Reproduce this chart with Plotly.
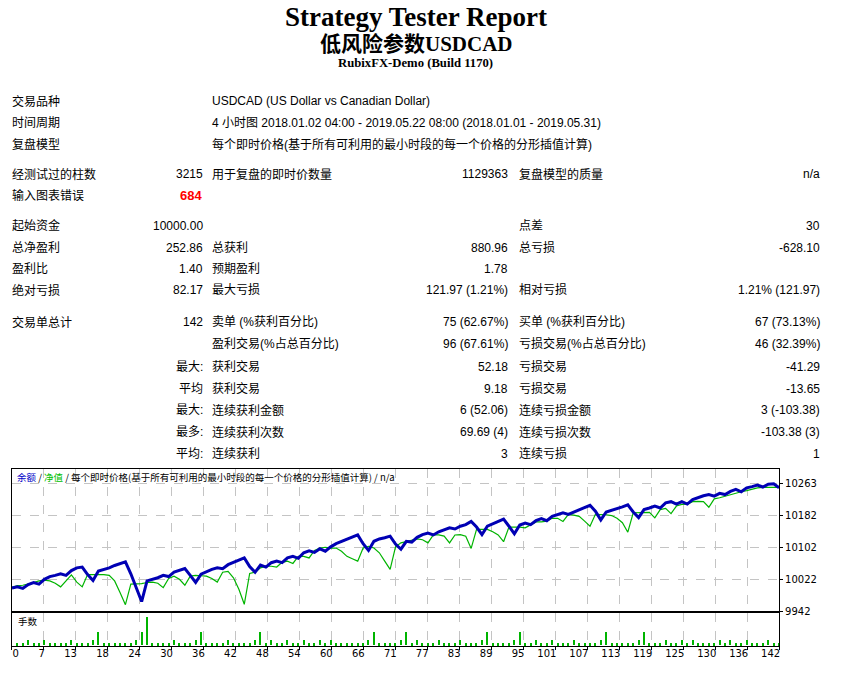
import numpy as np
import plotly.graph_objects as go

W, H = 843, 675

# Balance / equity per deal (deal 0 .. 142)
balance = [10000, 10003, 9999, 10009, 10014, 10010, 10022, 10029, 10032, 10036,
           10032, 10044, 10051, 10053, 10034, 10019, 10043, 10047, 10051, 10057,
           10062, 10066, 10036, 10001, 9966, 10018, 10022, 10026, 10032, 10029,
           10040, 10045, 10049, 10032, 10014, 10035, 10042, 10047, 10051, 10049,
           10059, 10065, 10072, 10076, 10054, 10040, 10058, 10053, 10064, 10068,
           10064, 10076, 10080, 10075, 10089, 10094, 10090, 10099, 10093, 10104,
           10112, 10118, 10122, 10128, 10134, 10112, 10095, 10118, 10124, 10127,
           10131, 10111, 10098, 10118, 10116, 10128, 10135, 10139, 10134, 10142,
           10147, 10152, 10149, 10156, 10160, 10168, 10154, 10135, 10156, 10162,
           10167, 10174, 10156, 10137, 10159, 10164, 10160, 10170, 10175, 10170,
           10181, 10186, 10190, 10186, 10192, 10198, 10204, 10209, 10194, 10172,
           10192, 10196, 10201, 10205, 10210, 10192, 10178, 10198, 10202, 10207,
           10202, 10215, 10218, 10212, 10218, 10212, 10223, 10229, 10233, 10236,
           10232, 10239, 10236, 10244, 10249, 10243, 10253, 10256, 10260, 10255,
           10262, 10263, 10253]

equity = [10002, 10006, 10007, 10010, 10014, 10018, 10020, 10018, 10012, 10003,
          10018, 10033, 10015, 10003, 10034, 10034, 10034, 10034, 10032, 10018,
          9989, 9958, 10010, 10010, 10011, 10014, 10015, 10012, 10001, 10024,
          10030, 10022, 10007, 10030, 10032, 10031, 10030, 10024, 10015, 10040,
          10042, 10026, 9997, 9959, 10037, 10040, 10051, 10055, 10055, 10053,
          10065, 10068, 10062, 10080, 10080, 10076, 10095, 10101, 10103, 10101,
          10101, 10093, 10080, 10074, 10068, 10101, 10105, 10101, 10089, 10068,
          10047, 10104, 10114, 10117, 10120, 10124, 10122, 10114, 10134, 10134,
          10131, 10114, 10134, 10135, 10131, 10100, 10148, 10148, 10148, 10142,
          10134, 10117, 10154, 10154, 10154, 10152, 10160, 10167, 10167, 10169,
          10176, 10176, 10168, 10186, 10184, 10181, 10169, 10156, 10186, 10186,
          10185, 10183, 10176, 10165, 10141, 10190, 10190, 10190, 10191, 10177,
          10198, 10201, 10188, 10207, 10211, 10212, 10218, 10219, 10218, 10204,
          10225, 10228, 10232, 10236, 10239, 10243, 10246, 10249, 10253, 10254,
          10254, 10254, 10254]

# lot size of every deal 1 .. 142
lots = [0.01, 0.01, 0.03, 0.01, 0.01, 0.03, 0.01, 0.01, 0.01, 0.01,
        0.03, 0.01, 0.01, 0.01, 0.03, 0.07, 0.01, 0.01, 0.01, 0.01,
        0.01, 0.01, 0.03, 0.07, 0.15, 0.01, 0.01, 0.01, 0.01, 0.03,
        0.01, 0.01, 0.01, 0.03, 0.07, 0.01, 0.01, 0.01, 0.01, 0.03,
        0.01, 0.01, 0.01, 0.01, 0.03, 0.07, 0.01, 0.03, 0.01, 0.01,
        0.03, 0.01, 0.01, 0.03, 0.01, 0.01, 0.03, 0.01, 0.03, 0.01,
        0.01, 0.01, 0.01, 0.01, 0.01, 0.03, 0.07, 0.01, 0.01, 0.01,
        0.01, 0.03, 0.07, 0.01, 0.03, 0.01, 0.01, 0.01, 0.03, 0.01,
        0.01, 0.01, 0.03, 0.01, 0.01, 0.01, 0.03, 0.07, 0.01, 0.01,
        0.01, 0.01, 0.03, 0.07, 0.01, 0.01, 0.03, 0.01, 0.01, 0.03,
        0.01, 0.01, 0.01, 0.03, 0.01, 0.01, 0.01, 0.01, 0.03, 0.07,
        0.01, 0.01, 0.01, 0.01, 0.01, 0.03, 0.07, 0.01, 0.01, 0.01,
        0.03, 0.01, 0.01, 0.03, 0.01, 0.03, 0.01, 0.01, 0.01, 0.01,
        0.03, 0.01, 0.03, 0.01, 0.01, 0.03, 0.01, 0.01, 0.01, 0.03,
        0.01, 0.01]

x_ticktext = ["0", "7", "13", "18", "24", "30", "36", "42", "48", "54", "60",
              "66", "71", "77", "83", "89", "95", "101", "107", "113", "119",
              "125", "130", "136", "142"]
y_ticktext = ["9942", "10022", "10102", "10182", "10263"]

# report table: (row y, [(x, anchor, text), ...])
table_rows = [
    (102, [(10, "left", "交易品种"), (210, "left", "USDCAD (US Dollar vs Canadian Dollar)")]),
    (124, [(10, "left", "时间周期"), (210, "left", "4 小时图 2018.01.02 04:00 - 2019.05.22 08:00 (2018.01.01 - 2019.05.31)")]),
    (146, [(10, "left", "复盘模型"), (210, "left", "每个即时价格(基于所有可利用的最小时段的每一个价格的分形插值计算)")]),
    (176, [(10, "left", "经测试过的柱数"), (205, "right", "3215"), (210, "left", "用于复盘的即时价数量"),
           (511, "right", "1129363"), (518, "left", "复盘模型的质量"), (823, "right", "n/a")]),
    (197, [(10, "left", "输入图表错误")]),
    (228, [(10, "left", "起始资金"), (205, "right", "10000.00"), (518, "left", "点差"), (823, "right", "30")]),
    (250, [(10, "left", "总净盈利"), (205, "right", "252.86"), (210, "left", "总获利"),
           (511, "right", "880.96"), (518, "left", "总亏损"), (823, "right", "-628.10")]),
    (271, [(10, "left", "盈利比"), (205, "right", "1.40"), (210, "left", "预期盈利"), (511, "right", "1.78")]),
    (293, [(10, "left", "绝对亏损"), (205, "right", "82.17"), (210, "left", "最大亏损"),
           (511, "right", "121.97 (1.21%)"), (518, "left", "相对亏损"), (823, "right", "1.21% (121.97)")]),
    (325, [(10, "left", "交易单总计"), (205, "right", "142"), (210, "left", "卖单 (%获利百分比)"),
           (511, "right", "75 (62.67%)"), (518, "left", "买单 (%获利百分比)"), (823, "right", "67 (73.13%)")]),
    (347, [(210, "left", "盈利交易(%占总百分比)"), (511, "right", "96 (67.61%)"),
           (518, "left", "亏损交易(%占总百分比)"), (823, "right", "46 (32.39%)")]),
    (370, [(205, "right", "最大:"), (210, "left", "获利交易"), (511, "right", "52.18"),
           (518, "left", "亏损交易"), (823, "right", "-41.29")]),
    (392, [(205, "right", "平均"), (210, "left", "获利交易"), (511, "right", "9.18"),
           (518, "left", "亏损交易"), (823, "right", "-13.65")]),
    (414, [(205, "right", "最大:"), (210, "left", "连续获利金额"), (511, "right", "6 (52.06)"),
           (518, "left", "连续亏损金额"), (823, "right", "3 (-103.38)")]),
    (436, [(205, "right", "最多:"), (210, "left", "连续获利次数"), (511, "right", "69.69 (4)"),
           (518, "left", "连续亏损次数"), (823, "right", "-103.38 (3)")]),
    (458, [(205, "right", "平均:"), (210, "left", "连续获利"), (511, "right", "3"),
           (518, "left", "连续亏损"), (823, "right", "1")]),
]


def px(x):
    return x / W


def py(y):
    return 1 - y / H


deals = np.arange(len(balance))
trade_no = np.arange(1, len(lots) + 1)

fig = go.Figure()
fig.add_trace(go.Scatter(x=deals, y=equity, mode="lines",
                         line=dict(color="#00b400", width=1.2),
                         xaxis="x", yaxis="y", showlegend=False))
fig.add_trace(go.Scatter(x=deals, y=balance, mode="lines",
                         line=dict(color="#0000b4", width=3),
                         xaxis="x", yaxis="y", showlegend=False))
fig.add_trace(go.Bar(x=trade_no, y=lots, width=0.22,
                     marker=dict(color="#00b400", line=dict(width=0)),
                     xaxis="x2", yaxis="y2", showlegend=False))
# carrier for the label-only axis
fig.add_trace(go.Scatter(x=[], y=[], xaxis="x3", yaxis="y2", showlegend=False))

n_deals = len(balance) - 1
grid_vals = np.linspace(0, n_deals, len(x_ticktext))
y_vals = np.linspace(9942, 10263, len(y_ticktext))

# MT4 writes the deal numbers right-aligned on the grid line (first one left-aligned)
unit_px = (780 - 12) / n_deals
char_px = 6.3
label_pos = []
for i, t in enumerate(x_ticktext):
    half = char_px * len(t) / 2
    shift = half + 0.5 if i == 0 else -half + 1
    label_pos.append(grid_vals[i] + shift / unit_px)

axis_common = dict(showline=True, linecolor="black", linewidth=1, mirror=True,
                   zeroline=False, gridcolor="#c4c4c4", griddash="dash", gridwidth=1)

fig.update_layout(
    width=W, height=H,
    margin=dict(l=0, r=0, t=0, b=0),
    paper_bgcolor="white", plot_bgcolor="white",
    font=dict(family="Liberation Sans, Noto Sans CJK SC", size=12, color="black"),
    bargap=0,
    xaxis=dict(domain=[px(12), px(780)], range=[0, n_deals], anchor="y",
               tickvals=grid_vals, showticklabels=False, ticks="", showgrid=True,
               **axis_common),
    yaxis=dict(domain=[py(616.5), py(473)], range=[9942, 10301], anchor="x",
               side="right", tickvals=y_vals, ticktext=y_ticktext,
               ticks="outside", ticklen=3, tickcolor="black",
               tickfont=dict(family="DejaVu Sans", size=10), showgrid=True,
               **axis_common),
    xaxis2=dict(domain=[px(12), px(780)], range=[0, n_deals], anchor="y2",
                matches="x", tickvals=grid_vals, showticklabels=False,
                ticks="outside", ticklen=3, tickcolor="black", showgrid=True,
                **axis_common),
    xaxis3=dict(domain=[px(12), px(780)], range=[0, n_deals], anchor="y2",
                overlaying="x2", side="bottom", tickvals=label_pos,
                ticktext=x_ticktext, ticks="", showgrid=False, showline=False,
                zeroline=False, tickfont=dict(family="DejaVu Sans", size=10)),
    yaxis2=dict(domain=[py(652), py(618)], range=[-0.007, 0.169], anchor="x2",
                showticklabels=False, ticks="", showgrid=False, **axis_common),
)

ann = []
# titles
ann.append(dict(x=px(416), y=1, yanchor="top", text="<b>Strategy Tester Report</b>",
                font=dict(family="Liberation Serif", size=27)))
ann.append(dict(x=px(417), y=py(44), text="<b>低风险参数USDCAD</b>",
                font=dict(family="Liberation Serif, Noto Sans CJK SC", size=21)))
ann.append(dict(x=px(416), y=py(64), text="<b>RubixFX-Demo (Build 1170)</b>",
                font=dict(family="Liberation Serif", size=12.7)))

for y, cells in table_rows:
    for x, anchor, text in cells:
        ann.append(dict(x=px(x), y=py(y), text=text, xanchor=anchor))

ann.append(dict(x=px(204), y=py(197), text="<b>684</b>", xanchor="right",
                font=dict(color="#ff0000", size=13)))

# chart header
ann.append(dict(x=px(15), y=py(481),
                text='<span style="color:#0000c8">余额</span> / '
                     '<span style="color:#00c000">净值</span> / '
                     '每个即时价格(基于所有可利用的最小时段的每一个价格的分形插值计算) / n/a',
                xanchor="left", font=dict(family="Noto Sans CJK SC", size=9.5)))
ann.append(dict(x=px(16), y=py(627), text="手数", xanchor="left",
                font=dict(family="Noto Sans CJK SC", size=9.5)))

for a in ann:
    a.setdefault("xref", "paper")
    a.setdefault("yref", "paper")
    a.setdefault("showarrow", False)
    a.setdefault("xanchor", "center")
    a.setdefault("yanchor", "middle")
fig.update_layout(annotations=ann)

fig.write_html("out.html", config={"displayModeBar": False},
               post_script="document.body.style.margin='0';"
                           "document.body.style.overflow='hidden';")
